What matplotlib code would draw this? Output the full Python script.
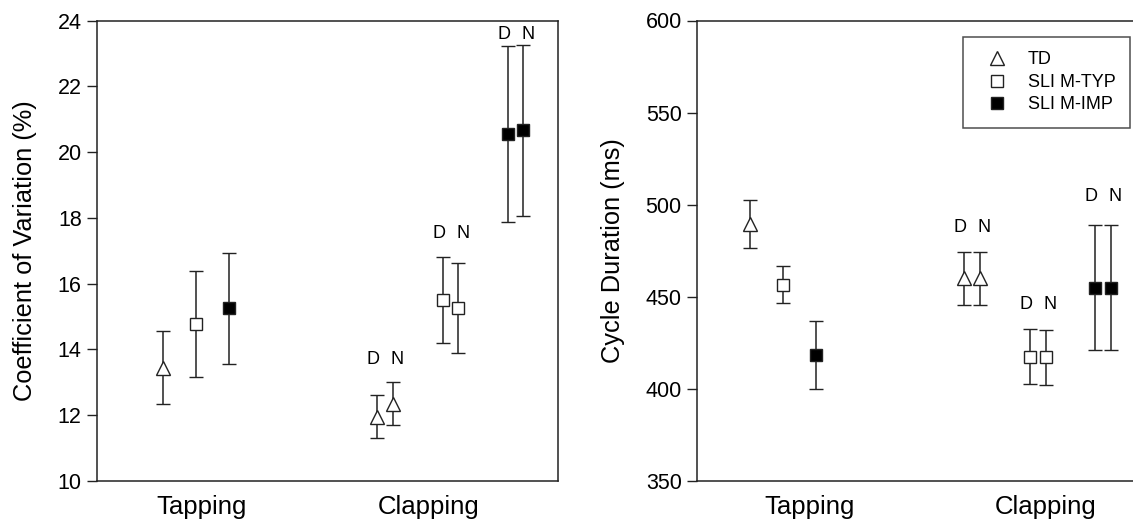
import numpy as np
import matplotlib
matplotlib.use("Agg")
import matplotlib.pyplot as plt
from matplotlib.lines import Line2D

plt.rcParams['font.family'] = ['Liberation Sans', 'DejaVu Sans']

groups = ["TD", "SLI M-TYP", "SLI M-IMP"]
tasks = ["Tapping", "Clapping"]

# coefficient of variation (%) -- mean and error half-width
cv_tap = [13.45, 14.77, 15.25]
cv_tap_err = [1.12, 1.60, 1.68]
cv_clap_d = [11.95, 15.50, 20.55]
cv_clap_d_err = [0.65, 1.30, 2.68]
cv_clap_n = [12.35, 15.25, 20.67]
cv_clap_n_err = [0.66, 1.37, 2.60]

# cycle duration (ms)
cd_tap = [489.5, 456.5, 418.5]
cd_tap_err = [13.0, 10.0, 18.5]
cd_clap_d = [460.0, 417.5, 455.0]
cd_clap_d_err = [14.3, 15.0, 33.8]
cd_clap_n = [460.0, 417.2, 455.0]
cd_clap_n_err = [14.3, 15.0, 33.8]

markers = ["^", "s", "s"]
faces = ["white", "white", "black"]
msizes = [10, 8.5, 8.5]
ink = "#222222"


def panel(ax, tap, tap_err, cd, cd_err, cn, cn_err, tap_x, clap_x, tick_x,
          ylim, yticks, ylabel, lab_off):
    for i in range(3):
        kw = dict(fmt=markers[i], mfc=faces[i], mec=ink, ms=msizes[i],
                  ecolor=ink, elinewidth=1.1, capsize=5, capthick=1.1,
                  mew=1.0, zorder=3)
        ax.errorbar(tap_x[i], tap[i], yerr=tap_err[i], **kw)
        ax.errorbar(clap_x[i] - 0.17, cd[i], yerr=cd_err[i], **kw)
        ax.errorbar(clap_x[i] + 0.17, cn[i], yerr=cn_err[i], **kw)
        top = max(cd[i] + cd_err[i], cn[i] + cn_err[i])
        for dx, t in [(-0.26, "D"), (0.26, "N")]:
            ax.annotate(t, (clap_x[i] + dx, top), xytext=(0, lab_off[i]),
                        textcoords="offset points", ha="center", va="center",
                        fontsize=13, color="black")
    ax.set_xlim(0, 10)
    ax.set_ylim(*ylim)
    ax.set_yticks(yticks)
    ax.set_xticks(tick_x)
    ax.set_xticklabels(tasks, fontsize=18.5)
    ax.tick_params(axis="x", length=0, pad=10)
    ax.tick_params(axis="y", direction="out", length=7, width=1, labelsize=15.5,
                   color=ink, pad=4)
    ax.set_ylabel(ylabel, fontsize=18.3, labelpad=15)
    for s in ax.spines.values():
        s.set_linewidth(1.1)
        s.set_color(ink)


fig = plt.figure(figsize=(11.33, 5.21), dpi=100)
ax1 = fig.add_axes([97 / 1133, 1 - 481 / 521, 461 / 1133, 460.5 / 521])
ax2 = fig.add_axes([697 / 1133, 1 - 481 / 521, 461 / 1133, 460.5 / 521])

panel(ax1, cv_tap, cv_tap_err, cv_clap_d, cv_clap_d_err, cv_clap_n, cv_clap_n_err,
      [1.43, 2.15, 2.86], [6.25, 7.67, 9.08], [2.26, 7.20],
      (10, 24), np.arange(10, 25, 2), "Coefficient of Variation (%)", [16, 17, 7.5])
panel(ax2, cd_tap, cd_tap_err, cd_clap_d, cd_clap_d_err, cd_clap_n, cd_clap_n_err,
      [1.14, 1.86, 2.58], [5.96, 7.39, 8.81], [2.45, 7.57],
      (350, 600), np.arange(350, 601, 50), "Cycle Duration (ms)", [18, 18, 21])

handles = [Line2D([], [], ls="none", marker=markers[i], mfc=faces[i], mec=ink,
                  ms=msizes[i] * 0.95, mew=1.0) for i in range(3)]
leg = ax2.legend(handles, groups, loc="upper left",
                 bbox_to_anchor=(963 / 1133, 1 - 37 / 521),
                 bbox_transform=fig.transFigure, fontsize=13, frameon=True,
                 fancybox=False, edgecolor=ink, handlelength=2.2,
                 handletextpad=0.6, labelspacing=0.3, borderpad=0.8,
                 borderaxespad=0)
leg.get_frame().set_linewidth(1.1)

fig.savefig("out.png", dpi=100)
